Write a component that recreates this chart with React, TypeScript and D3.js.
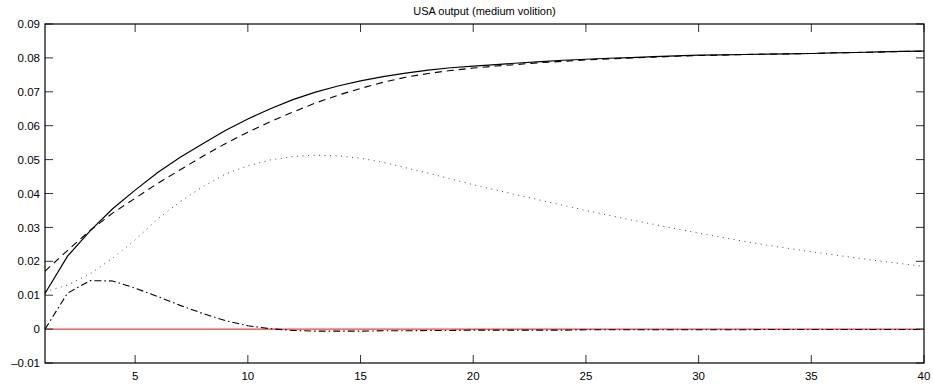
import React from "react";
import * as d3 from "d3";

// horizon 1..40
const periods = d3.range(1, 41);

const totalResp = [0.0105, 0.0215, 0.029, 0.0355, 0.041, 0.0462, 0.0507, 0.0547, 0.0586, 0.062,
  0.065, 0.0677, 0.0699, 0.0717, 0.0732, 0.0745, 0.0755, 0.0764, 0.0771, 0.0776,
  0.078, 0.0785, 0.0789, 0.0793, 0.0796, 0.0799, 0.0801, 0.0804, 0.0806, 0.0808,
  0.0809, 0.081, 0.0811, 0.0812, 0.0813, 0.0815, 0.0816, 0.0818, 0.0819, 0.082];

const dashedResp = [0.0171, 0.0232, 0.0291, 0.0342, 0.0386, 0.043, 0.047, 0.051, 0.0547, 0.0581,
  0.0612, 0.064, 0.0667, 0.069, 0.071, 0.0728, 0.0743, 0.0754, 0.0763, 0.077,
  0.0776, 0.0781, 0.0786, 0.079, 0.0794, 0.0797, 0.08, 0.0802, 0.0805, 0.0807,
  0.0808, 0.081, 0.0811, 0.0812, 0.0813, 0.0815, 0.0816, 0.0817, 0.0819, 0.082];

const dottedResp = [0.011, 0.013, 0.0163, 0.0209, 0.0263, 0.0325, 0.0376, 0.042, 0.0457, 0.0482,
  0.0499, 0.0509, 0.0513, 0.0511, 0.0504, 0.0492, 0.0476, 0.046, 0.0443, 0.0426,
  0.041, 0.0395, 0.038, 0.0365, 0.035, 0.0336, 0.0322, 0.0309, 0.0296, 0.0283,
  0.0271, 0.0259, 0.0248, 0.0238, 0.0228, 0.0219, 0.021, 0.0201, 0.0193, 0.0185];

const dashDotResp = [0, 0.0106, 0.0143, 0.0142, 0.0121, 0.0096, 0.007, 0.0046, 0.0025, 0.001,
  0.0001, -0.0004, -0.0006, -0.0006, -0.0006, -0.0005, -0.0005, -0.0004, -0.0004, -0.0003,
  -0.0003, -0.0003, -0.0003, -0.0003, -0.0002, -0.0002, -0.0002, -0.0002, -0.0002, -0.0002,
  -0.0002, -0.0002, -0.0001, -0.0001, -0.0001, -0.0001, -0.0001, -0.0001, -0.0001, -0.0001];

const xTicks = [5, 10, 15, 20, 25, 30, 35, 40];
const yTicks = [-0.01, 0, 0.01, 0.02, 0.03, 0.04, 0.05, 0.06, 0.07, 0.08, 0.09];
const yTickLabels = ["\u20130.01", "0", "0.01", "0.02", "0.03", "0.04", "0.05", "0.06", "0.07", "0.08", "0.09"];
const title = "USA output (medium volition)";

const W = 933;
const H = 387;
const left = 45;
const right = 924;
const top = 24;
const bottom = 363;

const App = () => {
  const x = d3.scaleLinear().domain([1, 40]).range([left, right]);
  const y = d3.scaleLinear().domain([-0.01, 0.09]).range([bottom, top]);

  const line = d3.line<number>()
    .x((d, i) => x(periods[i]))
    .y((d) => y(d));

  const font = "'Liberation Sans', Arial, Helvetica, sans-serif";
  const tickLen = 8;

  return (
    <svg width={W} height={H} style={{ position: "absolute", left: 0, top: 0, background: "#fff" }}>
      <text x={(left + right) / 2} y={15} textAnchor="middle" fontFamily={font} fontSize={11}>{title}</text>

      {/* zero line */}
      <line x1={x(1)} x2={x(40)} y1={y(0)} y2={y(0)} stroke="#f03c3c" strokeWidth={1.3} />

      <path d={line(dottedResp) || ""} fill="none" stroke="#444" strokeWidth={1} strokeDasharray="1,4.5" />
      <path d={line(dashDotResp) || ""} fill="none" stroke="#000" strokeWidth={1.1} strokeDasharray="7,3,1.5,3" />
      <path d={line(dashedResp) || ""} fill="none" stroke="#000" strokeWidth={1.1} strokeDasharray="7,5" />
      <path d={line(totalResp) || ""} fill="none" stroke="#000" strokeWidth={1.2} />

      {/* ticks, both sides */}
      {yTicks.map((t, i) => (
        <g key={"y" + i}>
          <line x1={left} x2={left + tickLen} y1={y(t)} y2={y(t)} stroke="#333" strokeWidth={1} />
          <line x1={right - tickLen} x2={right} y1={y(t)} y2={y(t)} stroke="#333" strokeWidth={1} />
          <text x={left - 5} y={y(t)} dy="0.36em" textAnchor="end" fontFamily={font} fontSize={11.5}>{yTickLabels[i]}</text>
        </g>
      ))}
      {xTicks.map((t) => (
        <g key={"x" + t}>
          <line x1={x(t)} x2={x(t)} y1={bottom} y2={bottom - tickLen} stroke="#333" strokeWidth={1} />
          <line x1={x(t)} x2={x(t)} y1={top} y2={top + tickLen} stroke="#333" strokeWidth={1} />
          <text x={x(t)} y={380} textAnchor="middle" fontFamily={font} fontSize={11.5}>{t}</text>
        </g>
      ))}

      <rect x={left} y={top} width={right - left} height={bottom - top} fill="none" stroke="#000" strokeWidth={1.2} />
    </svg>
  );
};

export default App;
